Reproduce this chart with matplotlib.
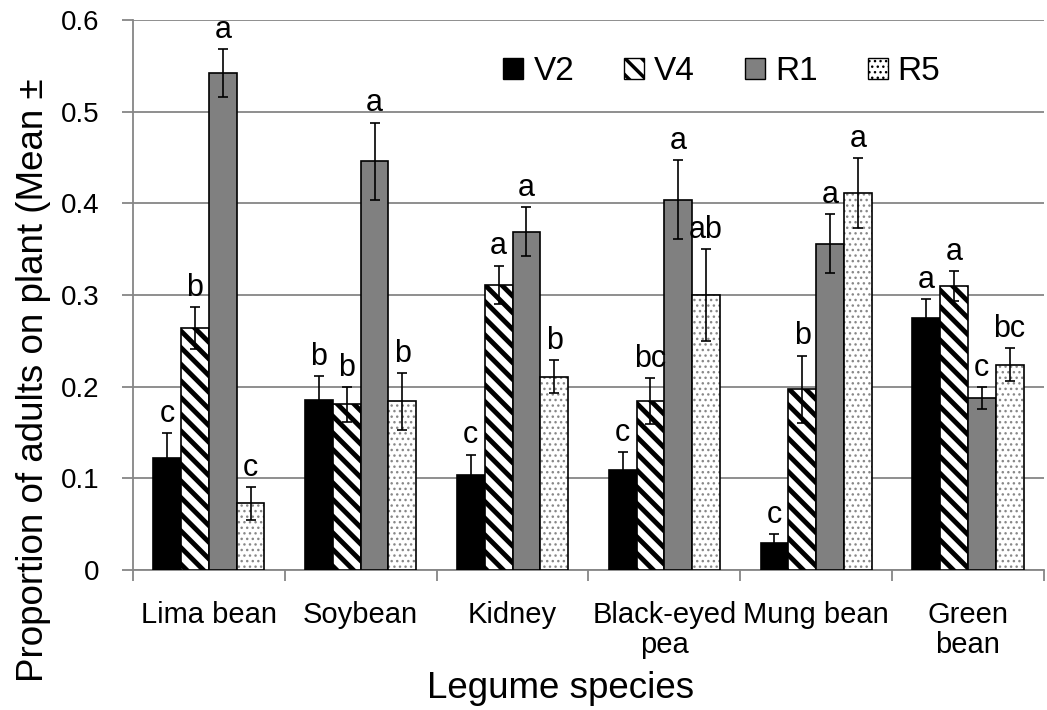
import numpy as np
import matplotlib.pyplot as plt
from matplotlib.patches import Patch

plt.rcParams['font.family'] = ['Liberation Sans', 'DejaVu Sans']

# legume species and growth stages
species = ["Lima bean", "Soybean", "Kidney", "Black-eyed\npea", "Mung bean", "Green\nbean"]
stages = ["V2", "V4", "R1", "R5"]

# mean proportion of adults on plant, one list per stage
v2_mean = [0.122, 0.185, 0.104, 0.109, 0.030, 0.275]
v4_mean = [0.264, 0.181, 0.311, 0.184, 0.197, 0.310]
r1_mean = [0.542, 0.446, 0.369, 0.404, 0.356, 0.188]
r5_mean = [0.073, 0.184, 0.211, 0.300, 0.411, 0.224]

# standard errors
v2_se = [0.027, 0.027, 0.022, 0.020, 0.009, 0.021]
v4_se = [0.023, 0.019, 0.021, 0.025, 0.037, 0.016]
r1_se = [0.026, 0.042, 0.027, 0.043, 0.032, 0.012]
r5_se = [0.018, 0.031, 0.018, 0.050, 0.038, 0.018]

# significance letters
v2_letters = ["c", "b", "c", "c", "c", "a"]
v4_letters = ["b", "b", "a", "bc", "b", "a"]
r1_letters = ["a", "a", "a", "a", "a", "c"]
r5_letters = ["c", "b", "b", "ab", "a", "bc"]

means = [v2_mean, v4_mean, r1_mean, r5_mean]
errs = [v2_se, v4_se, r1_se, r5_se]
letters = [v2_letters, v4_letters, r1_letters, r5_letters]

fig = plt.figure(figsize=(10.47, 7.10), dpi=100)
ax = fig.add_axes([0.127, 0.197, 0.870, 0.775])

x = np.arange(len(species))
width = 0.183
grey = '#868686'

for i in range(4):
    pos = x + (i - 1.5) * width
    if i == 0:
        ax.bar(pos, means[i], width, color='black', edgecolor='black', linewidth=1.2, zorder=3)
    elif i == 1:
        with plt.rc_context({'hatch.linewidth': 3.5}):
            bars = ax.bar(pos, means[i], width, color='white', edgecolor='black',
                          linewidth=1.2, hatch='\\\\', zorder=3)
        for b in bars:
            if hasattr(b, 'set_hatch_linewidth'):
                b.set_hatch_linewidth(3.5)
    elif i == 2:
        ax.bar(pos, means[i], width, color='#808080', edgecolor='black', linewidth=1.2, zorder=3)
    else:
        # dotted fill first, then black outline on top
        with plt.rc_context({'hatch.linewidth': 1.0}):
            bars = ax.bar(pos, means[i], width, color='white', edgecolor='#888888',
                          linewidth=0, hatch='...', zorder=3)
        for b in bars:
            if hasattr(b, 'set_hatch_linewidth'):
                b.set_hatch_linewidth(1.0)
        ax.bar(pos, means[i], width, fill=False, edgecolor='black', linewidth=1.2, zorder=3)
    ax.errorbar(pos, means[i], yerr=errs[i], fmt='none', ecolor='black',
                elinewidth=1.2, capsize=3.5, capthick=1.2, zorder=4)
    for j in range(len(species)):
        ax.annotate(letters[i][j], (pos[j], means[i][j] + errs[i][j]),
                    xytext=(0, 3), textcoords='offset points',
                    ha='center', va='bottom', fontsize=22, zorder=5)

ax.set_ylim(0, 0.6)
ax.set_xlim(-0.5, len(species) - 0.5)
ax.set_yticks(np.arange(0, 0.61, 0.1))
ax.set_yticklabels(["0", "0.1", "0.2", "0.3", "0.4", "0.5", "0.6"])
ax.yaxis.grid(True, color=grey, linewidth=1.3, zorder=0)
ax.set_axisbelow(True)

# tick marks between categories, labels in the middle
ax.set_xticks(np.arange(-0.5, len(species), 1.0))
ax.set_xticklabels([])
ax.set_xticks(x, minor=True)
ax.set_xticklabels(species, minor=True, fontsize=21, linespacing=1.1)
ax.tick_params(axis='x', which='major', length=8, color=grey, width=1.3)
ax.tick_params(axis='x', which='minor', length=0, pad=22)
ax.tick_params(axis='y', length=8, color=grey, width=1.3, labelsize=20, pad=16)

for s in ['top', 'right']:
    ax.spines[s].set_visible(False)
for s in ['left', 'bottom']:
    ax.spines[s].set_color(grey)
    ax.spines[s].set_linewidth(1.3)

fig.text(561 / 1047, 12 / 710, "Legume species", ha='center', va='baseline', fontsize=26.5)
fig.text(43 / 1047, 28 / 710, "Proportion of adults on plant (Mean \u00b1", rotation=90,
         rotation_mode='anchor', ha='left', va='baseline', fontsize=26.5)

handles = [Patch(facecolor='black', edgecolor='black'),
           Patch(facecolor='white', edgecolor='black', hatch='\\\\'),
           Patch(facecolor='#808080', edgecolor='black'),
           Patch(facecolor='white', edgecolor='black', hatch='...')]
leg = ax.legend(handles, stages, ncol=4, frameon=False, fontsize=24,
                loc='center', bbox_to_anchor=((722 - 133) / 911, (570 - 72) / 550),
                handlelength=0.6, handleheight=0.6, handletextpad=0.3, columnspacing=1.5)
# thicker stripes on the V4 key
leg_patches = leg.get_patches()
if hasattr(leg_patches[1], 'set_hatch_linewidth'):
    leg_patches[1].set_hatch_linewidth(2.5)

plt.savefig("out.png", dpi=100)
